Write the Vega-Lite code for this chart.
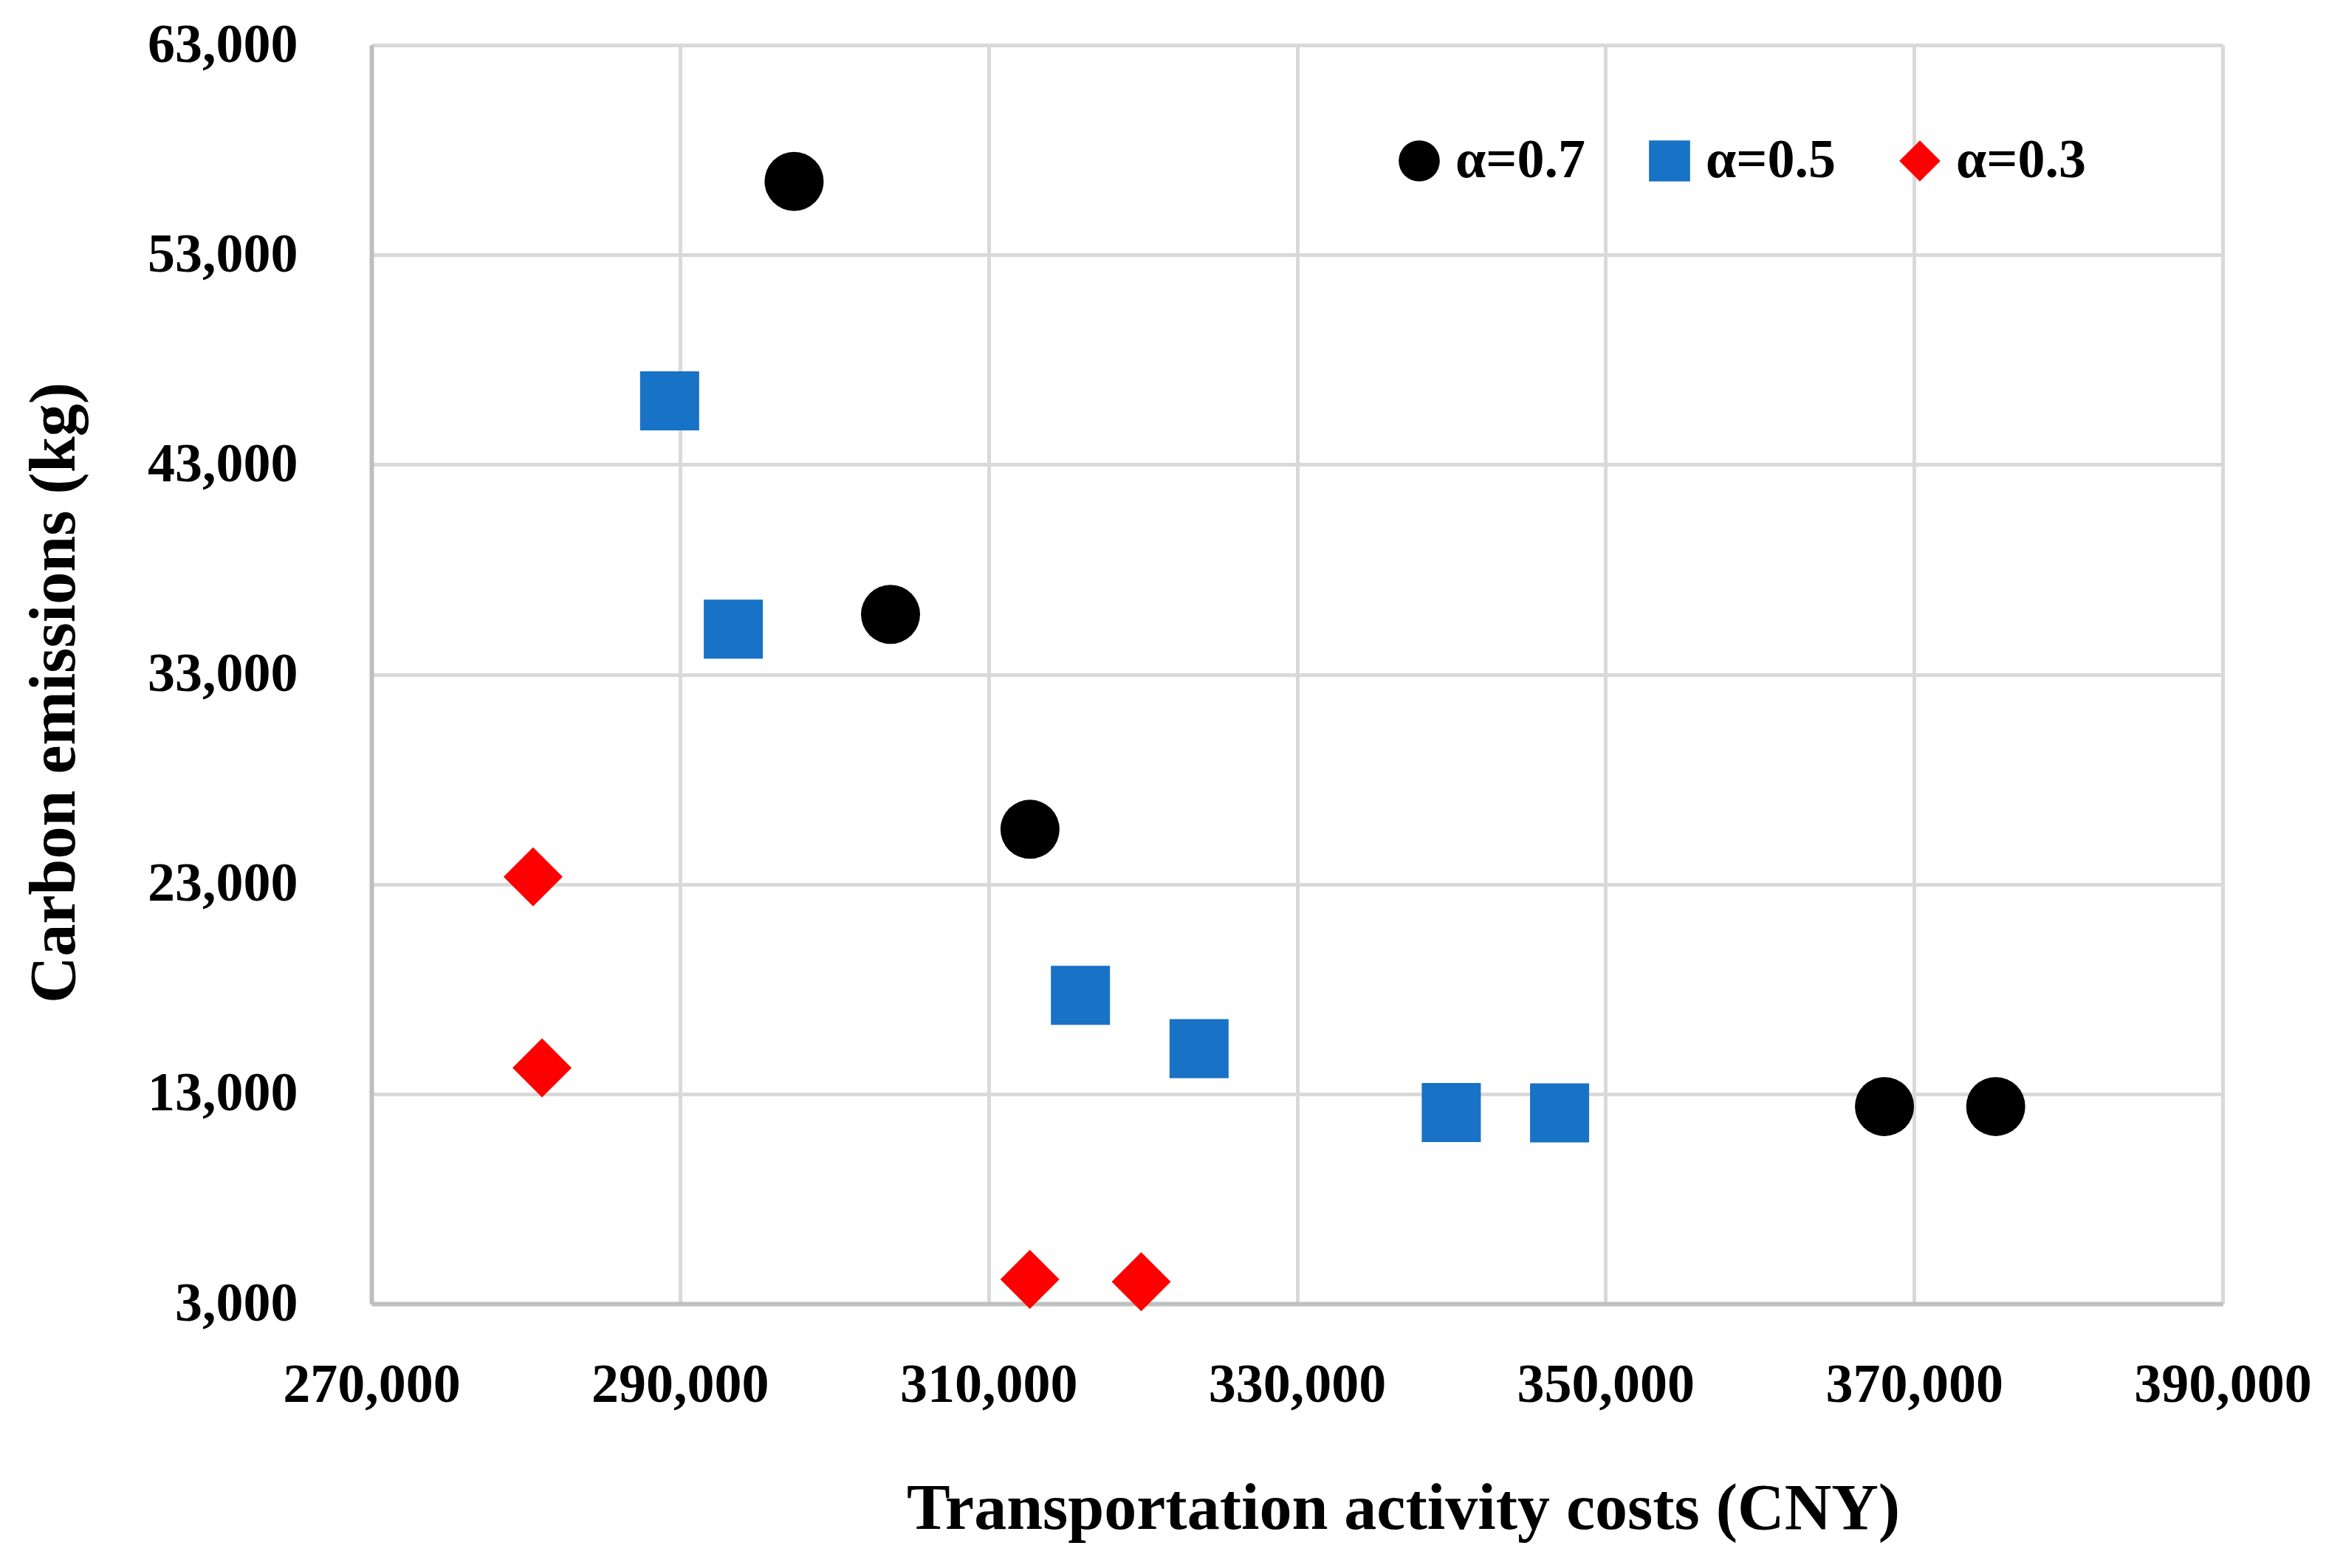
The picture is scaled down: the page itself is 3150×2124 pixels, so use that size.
{
  "$schema": "https://vega.github.io/schema/vega-lite/v6.json",
  "autosize": "none",
  "width": 2507,
  "height": 1705,
  "padding": {"left": 503, "top": 61, "right": 140, "bottom": 358},
  "background": "white",
  "config": {
    "view": {"stroke": null},
    "font": "Liberation Serif"
  },
  "data": {
    "values": [
      {"cost": 297400, "emission": 56500, "series": "α=0.7"},
      {"cost": 303650, "emission": 35860, "series": "α=0.7"},
      {"cost": 312690, "emission": 25615, "series": "α=0.7"},
      {"cost": 368080, "emission": 12400, "series": "α=0.7"},
      {"cost": 375290, "emission": 12400, "series": "α=0.7"},
      {"cost": 289330, "emission": 46040, "series": "α=0.5"},
      {"cost": 293460, "emission": 35155, "series": "α=0.5"},
      {"cost": 315960, "emission": 17700, "series": "α=0.5"},
      {"cost": 323650, "emission": 15155, "series": "α=0.5"},
      {"cost": 340000, "emission": 12117, "series": "α=0.5"},
      {"cost": 347020, "emission": 12100, "series": "α=0.5"},
      {"cost": 280480, "emission": 23350, "series": "α=0.3"},
      {"cost": 281060, "emission": 14240, "series": "α=0.3"},
      {"cost": 312680, "emission": 4160, "series": "α=0.3"},
      {"cost": 319900, "emission": 4050, "series": "α=0.3"}
    ]
  },
  "mark": {"type": "point", "filled": true, "opacity": 1, "size": 6400},
  "encoding": {
    "x": {
      "field": "cost", "type": "quantitative",
      "scale": {"domain": [270000, 390000], "nice": false, "zero": false},
      "axis": {
        "title": "Transportation activity costs (CNY)",
        "values": [270000, 290000, 310000, 330000, 350000, 370000, 390000],
        "format": ",.0f",
        "ticks": false, "tickSize": 0,
        "labelFont": "Liberation Serif", "labelFontWeight": "bold", "labelFontSize": 74, "labelColor": "#000000",
        "labelBaseline": "alphabetic", "labelPadding": 132, "labelDx": -8, "labelFlush": false, "labelOverlap": false, "labelLimit": 1000,
        "domain": true, "domainColor": "#BFBFBF", "domainWidth": 6,
        "grid": true, "gridColor": "#D9D9D9", "gridWidth": 5,
        "titleFont": "Liberation Serif", "titleFontWeight": "bold", "titleFontSize": 88, "titleColor": "#000000",
        "titleX": 1397, "titleY": 304, "titleAlign": "center", "titleBaseline": "alphabetic", "titleAnchor": null, "titleLimit": 3000
      }
    },
    "y": {
      "field": "emission", "type": "quantitative",
      "scale": {"domain": [3000, 63000], "nice": false, "zero": false},
      "axis": {
        "title": "Carbon emissions (kg)",
        "values": [3000, 13000, 23000, 33000, 43000, 53000, 63000],
        "format": ",.0f",
        "ticks": false, "tickSize": 0,
        "labelFont": "Liberation Serif", "labelFontWeight": "bold", "labelFontSize": 74, "labelColor": "#000000",
        "labelPadding": 100, "labelFlush": false, "labelOverlap": false, "labelLimit": 1000,
        "domain": true, "domainColor": "#BFBFBF", "domainWidth": 6,
        "grid": true, "gridColor": "#D9D9D9", "gridWidth": 5,
        "titleFont": "Liberation Serif", "titleFontWeight": "bold", "titleFontSize": 88, "titleColor": "#000000",
        "titleX": -403, "titleY": 877, "titleAngle": -90, "titleAlign": "center", "titleBaseline": "alphabetic", "titleAnchor": null, "titleLimit": 3000
      }
    },
    "color": {
      "field": "series", "type": "nominal",
      "scale": {"domain": ["α=0.7", "α=0.5", "α=0.3"], "range": ["#000000", "#1872C6", "#FF0000"]},
      "legend": {
        "title": null,
        "orient": "none",
        "direction": "horizontal",
        "legendX": 1382,
        "legendY": 120,
        "symbolSize": 3100,
        "symbolStrokeWidth": 0,
        "labelFont": "Liberation Serif", "labelFontWeight": "bold", "labelFontSize": 74, "labelColor": "#000000",
        "labelOffset": 12,
        "labelLimit": 400,
        "columnPadding": 77
      }
    },
    "shape": {
      "field": "series", "type": "nominal",
      "scale": {"domain": ["α=0.7", "α=0.5", "α=0.3"], "range": ["circle", "square", "diamond"]},
      "legend": null
    }
  }
}
